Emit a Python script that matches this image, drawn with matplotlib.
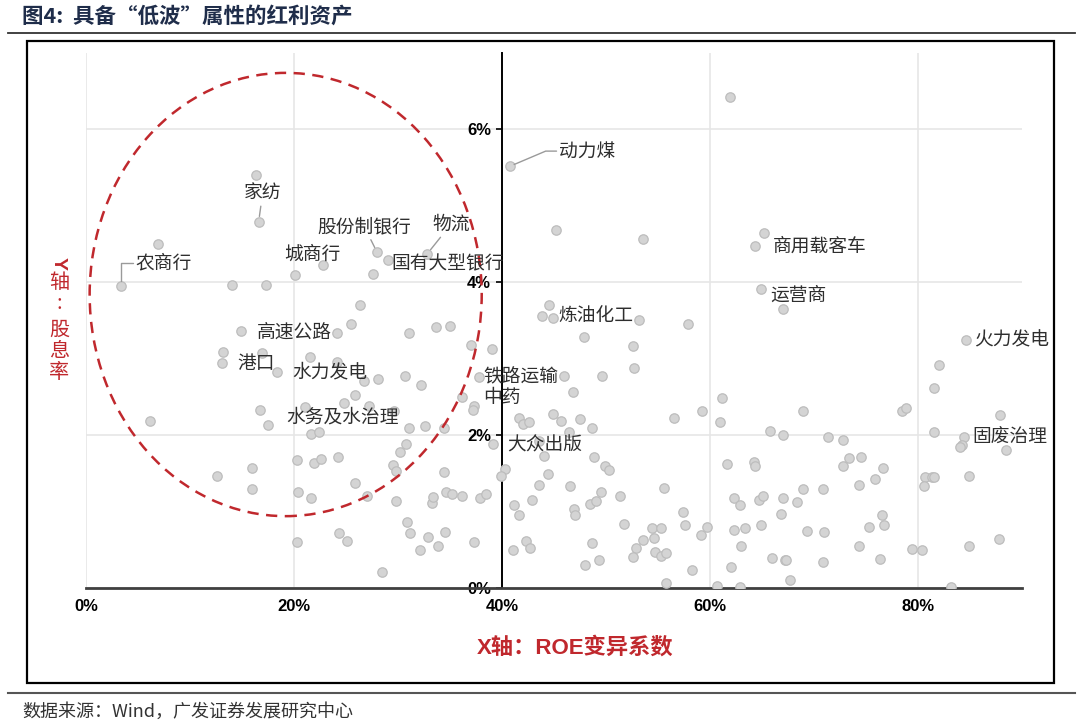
import matplotlib
matplotlib.use("Agg")
import matplotlib.pyplot as plt
from matplotlib.patches import Ellipse, Rectangle
from matplotlib.lines import Line2D

plt.rcParams['font.family'] = ['Noto Sans CJK SC', 'DejaVu Sans']

# ROE变异系数 (%) 与 股息率 (%)
roe_cv = [
    16.3, 16.6, 6.9, 3.4, 14.0, 17.3, 20.1, 22.8, 28.0, 29.0, 32.8, 27.6, 26.3,
    25.5, 14.9, 24.1, 31.1, 33.7, 35.0, 13.2, 13.1, 16.9, 18.4, 21.5, 24.1, 26.7,
    28.1, 30.7, 32.2, 37.0, 39.0, 37.8, 36.2, 37.3, 37.2, 25.9, 24.8, 27.2, 21.1,
    29.6, 16.7, 17.5, 6.2, 31.1, 32.6, 34.4, 21.6, 22.4, 30.8, 39.1, 30.2, 20.3,
    21.9, 22.6, 24.2, 29.5, 29.8, 34.4, 40.3, 39.9, 12.6, 16.0, 16.0, 25.9, 27.0,
    20.4, 21.6, 29.8, 33.3, 33.4, 34.6, 35.2, 36.2, 37.9, 38.5, 41.2, 41.6, 30.9,
    31.2, 32.9, 34.5, 24.3, 25.1, 20.3, 32.1, 33.8, 37.3, 41.1, 28.5,
    61.9, 40.8, 45.2, 53.6, 65.2, 64.3, 64.9,
    67.0, 44.5, 43.8, 44.9, 53.2, 57.9, 47.9, 52.6, 52.7, 46.0, 49.6, 46.8, 41.6,
    42.0, 42.6, 44.9, 45.7, 47.5, 46.4, 48.7, 43.6, 44.0, 48.8, 49.9, 50.3, 44.4,
    43.6, 46.5, 42.9, 46.9, 47.0, 48.5, 49.0, 49.5, 51.3, 55.6, 42.3, 42.7, 48.0,
    48.7, 49.3, 51.7, 52.9, 52.6, 53.6, 54.4, 55.3, 54.6, 54.7, 55.3, 55.8, 55.8,
    57.4, 57.6, 58.3, 59.1, 59.7, 56.5, 59.2, 61.2, 61.0, 61.6, 60.7, 62.0, 62.3,
    62.9, 62.3, 63.4, 63.0, 62.9, 64.2, 64.3, 64.7, 65.1, 64.9, 65.8, 67.0, 68.9,
    66.0, 67.0, 66.8, 67.2, 67.3, 67.7, 68.4, 68.9, 69.3, 70.9, 71.0, 70.9, 71.3,
    72.8, 72.8, 73.4, 74.5, 74.3, 74.3, 75.3, 75.9, 76.6, 76.5, 76.7, 76.3, 78.5,
    78.8, 79.4, 80.4, 82.0, 81.5, 81.5, 80.7, 81.3, 81.5, 80.6, 83.2, 84.6, 84.4,
    84.2, 84.0, 87.9, 88.5, 84.9, 84.9, 87.8,
]
div_yield = [
    5.40, 4.79, 4.50, 3.95, 3.97, 3.96, 4.10, 4.22, 4.39, 4.29, 4.37, 4.11, 3.70,
    3.46, 3.36, 3.34, 3.33, 3.41, 3.43, 3.09, 2.94, 3.07, 2.83, 3.02, 2.96, 2.71,
    2.73, 2.77, 2.66, 3.18, 3.13, 2.76, 2.50, 2.38, 2.33, 2.52, 2.42, 2.38, 2.37,
    2.31, 2.33, 2.13, 2.19, 2.09, 2.12, 2.09, 2.01, 2.04, 1.89, 1.89, 1.78, 1.67,
    1.63, 1.69, 1.72, 1.61, 1.53, 1.52, 1.56, 1.46, 1.47, 1.57, 1.30, 1.37, 1.21,
    1.25, 1.18, 1.14, 1.11, 1.19, 1.25, 1.23, 1.20, 1.18, 1.23, 1.08, 0.96, 0.86,
    0.72, 0.67, 0.73, 0.72, 0.62, 0.60, 0.50, 0.55, 0.60, 0.50, 0.21,
    6.43, 5.52, 4.68, 4.56, 4.65, 4.47, 3.91,
    3.65, 3.70, 3.56, 3.53, 3.51, 3.46, 3.28, 3.17, 2.88, 2.77, 2.78, 2.56, 2.22,
    2.15, 2.17, 2.28, 2.18, 2.21, 2.04, 2.09, 1.92, 1.73, 1.71, 1.59, 1.54, 1.49,
    1.35, 1.34, 1.15, 1.03, 0.95, 1.10, 1.14, 1.25, 1.21, 1.31, 0.62, 0.52, 0.30,
    0.59, 0.37, 0.84, 0.52, 0.40, 0.63, 0.79, 0.78, 0.65, 0.47, 0.42, 0.46, 0.06,
    1.00, 0.83, 0.23, 0.69, 0.80, 2.22, 2.32, 2.49, 2.17, 1.62, 0.03, 0.28, 1.18,
    1.09, 0.76, 0.78, 0.55, 0.01, 1.65, 1.60, 1.15, 1.21, 0.83, 2.06, 2.00, 2.32,
    0.39, 1.18, 0.97, 0.37, 0.36, 0.11, 1.12, 1.30, 0.74, 1.29, 0.73, 0.34, 1.97,
    1.94, 1.59, 1.70, 1.71, 1.35, 0.55, 0.80, 1.43, 1.57, 0.96, 0.83, 0.38, 2.32,
    2.36, 0.51, 0.50, 2.92, 2.62, 2.04, 1.45, 1.45, 1.45, 1.34, 0.01, 3.24, 1.98,
    1.87, 1.84, 2.26, 1.81, 1.46, 0.55, 0.64,
]

# 标注的行业
label_names = ['家纺', '农商行', '城商行', '股份制银行', '国有大型银行', '物流', '动力煤',
               '高速公路', '港口', '水力发电', '水务及水治理', '铁路运输', '中药', '大众出版',
               '炼油化工', '商用载客车', '运营商', '火力发电', '固废治理']
label_x = [16.6, 3.4, 22.8, 28.0, 29.0, 32.8, 40.8, 14.9, 13.1, 18.4, 17.5, 37.8, 36.2,
           39.1, 44.9, 64.3, 64.9, 84.6, 84.4]
label_y = [4.79, 3.95, 4.22, 4.39, 4.29, 4.37, 5.52, 3.36, 2.94, 2.83, 2.13, 2.76, 2.50,
           1.89, 3.53, 4.47, 3.91, 3.24, 1.98]

x_ticks = [0, 20, 40, 60, 80]
y_ticks = [0, 2, 4, 6]

RED = '#c0282d'
W, H = 1080, 728

fig = plt.figure(figsize=(W / 100, H / 100), dpi=100)
ax = fig.add_axes([86 / W, 1 - 588 / H, (1022 - 86) / W, (588 - 53) / H])
ax.set_xlim(0, 90)
ax.set_ylim(0, 7)

# 网格
ax.set_axisbelow(True)
ax.grid(True, color='#e6e6e6', lw=1.2)

# 坐标轴
for s in ['top', 'right']:
    ax.spines[s].set_visible(False)
ax.spines['left'].set_position(('data', 40))
ax.spines['left'].set_color('black')
ax.spines['left'].set_linewidth(1.4)
ax.spines['bottom'].set_color('#404040')
ax.spines['bottom'].set_linewidth(2.0)

ax.set_xticks(x_ticks)
ax.set_xticklabels([f'{v}%' for v in x_ticks], fontweight='bold',
                   family=['Liberation Sans', 'DejaVu Sans'], fontsize=12)
ax.set_yticks(y_ticks)
ax.set_yticklabels([f'{v}%' for v in y_ticks], fontweight='bold',
                   family=['Liberation Sans', 'DejaVu Sans'], fontsize=12)
ax.tick_params(axis='x', length=0, pad=8)
ax.tick_params(axis='y', length=4, width=1.2, pad=4, color='black')

# 散点
ax.scatter(roe_cv, div_yield, s=46, color='#d4d4d4', edgecolors='#bdbdbd',
           linewidths=0.9, zorder=3)

# 虚线椭圆
ell = Ellipse((19.2, 3.84), 37.7, 5.8, fill=False, ec=RED, lw=1.8,
              ls=(0, (4.5, 3)), zorder=4)
ax.add_patch(ell)

# 标签
offsets = {
    '家纺': (4, 29, 'center', 'line'),
    '农商行': (14, 23, 'left', 'elbow'),
    '城商行': (-11, 11, 'center', None),
    '股份制银行': (-13, 26, 'center', 'line'),
    '国有大型银行': (4, -4, 'left', None),
    '物流': (24, 30, 'center', 'line'),
    '动力煤': (49, 15, 'left', 'bent'),
    '高速公路': (16, -1, 'left', None),
    '港口': (15, 0, 'left', None),
    '水力发电': (15, 0, 'left', None),
    '水务及水治理': (18, 8, 'left', None),
    '铁路运输': (4, 0, 'left', None),
    '中药': (21, -1, 'left', None),
    '大众出版': (15, -1, 'left', None),
    '炼油化工': (5, 2, 'left', None),
    '商用载客车': (18, 0, 'left', None),
    '运营商': (9, -6, 'left', None),
    '火力发电': (8, 0, 'left', None),
    '固废治理': (9, -1, 'left', None),
}
for name, x, y in zip(label_names, label_x, label_y):
    dx, dy, ha, kind = offsets[name]
    arrow = None
    if kind == 'line':
        arrow = dict(arrowstyle='-', color='#9a9a9a', lw=1, shrinkA=0, shrinkB=4)
    elif kind == 'elbow':
        arrow = dict(arrowstyle='-', color='#9a9a9a', lw=1, shrinkA=0, shrinkB=4,
                     connectionstyle='angle,angleA=0,angleB=90,rad=0')
    elif kind == 'bent':
        arrow = dict(arrowstyle='-', color='#9a9a9a', lw=1, shrinkA=0, shrinkB=3,
                     connectionstyle='angle,angleA=0,angleB=23,rad=0')
    ax.annotate(name, (x, y), xytext=(dx, dy), textcoords='offset pixels',
                ha=ha, va='center', fontsize=13.5, color='#2e2e2e',
                arrowprops=arrow, zorder=6)

# 轴标题
fig.text(575 / W, 1 - 648 / H, 'X轴：ROE变异系数', color=RED, fontsize=16,
         fontweight='bold', family=['Liberation Sans', 'Noto Sans CJK SC'],
         ha='center', va='center')
fig.text(58 / W, 1 - 263 / H, 'Y', color=RED, fontsize=14, fontweight='bold',
         family=['Liberation Sans'], rotation=-90, ha='center', va='center')
for ch, py in zip(['轴', ':', '股', '息', '率'], [283, 303, 330, 351, 372]):
    fig.text(59 / W, 1 - py / H, ch, color=RED, fontsize=14.5,
             ha='center', va='center')

# 边框、标题、来源
fig.add_artist(Rectangle((27 / W, 1 - 683 / H), (1054 - 27) / W, (683 - 41) / H,
                         transform=fig.transFigure, fill=False, ec='black', lw=1.6))
fig.add_artist(Line2D([8 / W, 1075 / W], [1 - 33 / H] * 2, color='#333333', lw=1.3))
fig.add_artist(Line2D([8 / W, 1075 / W], [1 - 693 / H] * 2, color='#555555', lw=1.5))
fig.text(22 / W, 1 - 16 / H, '图4:  具备“低波”属性的红利资产', color='#1f2d4a',
         fontsize=15.5, fontweight='bold', ha='left', va='center')
fig.text(22 / W, 1 - 712 / H, '数据来源：Wind，广发证券发展研究中心', color='#333333',
         fontsize=13, ha='left', va='center',
         family=['Noto Sans CJK SC', 'DejaVu Sans'])

fig.savefig('out.png', dpi=100)
